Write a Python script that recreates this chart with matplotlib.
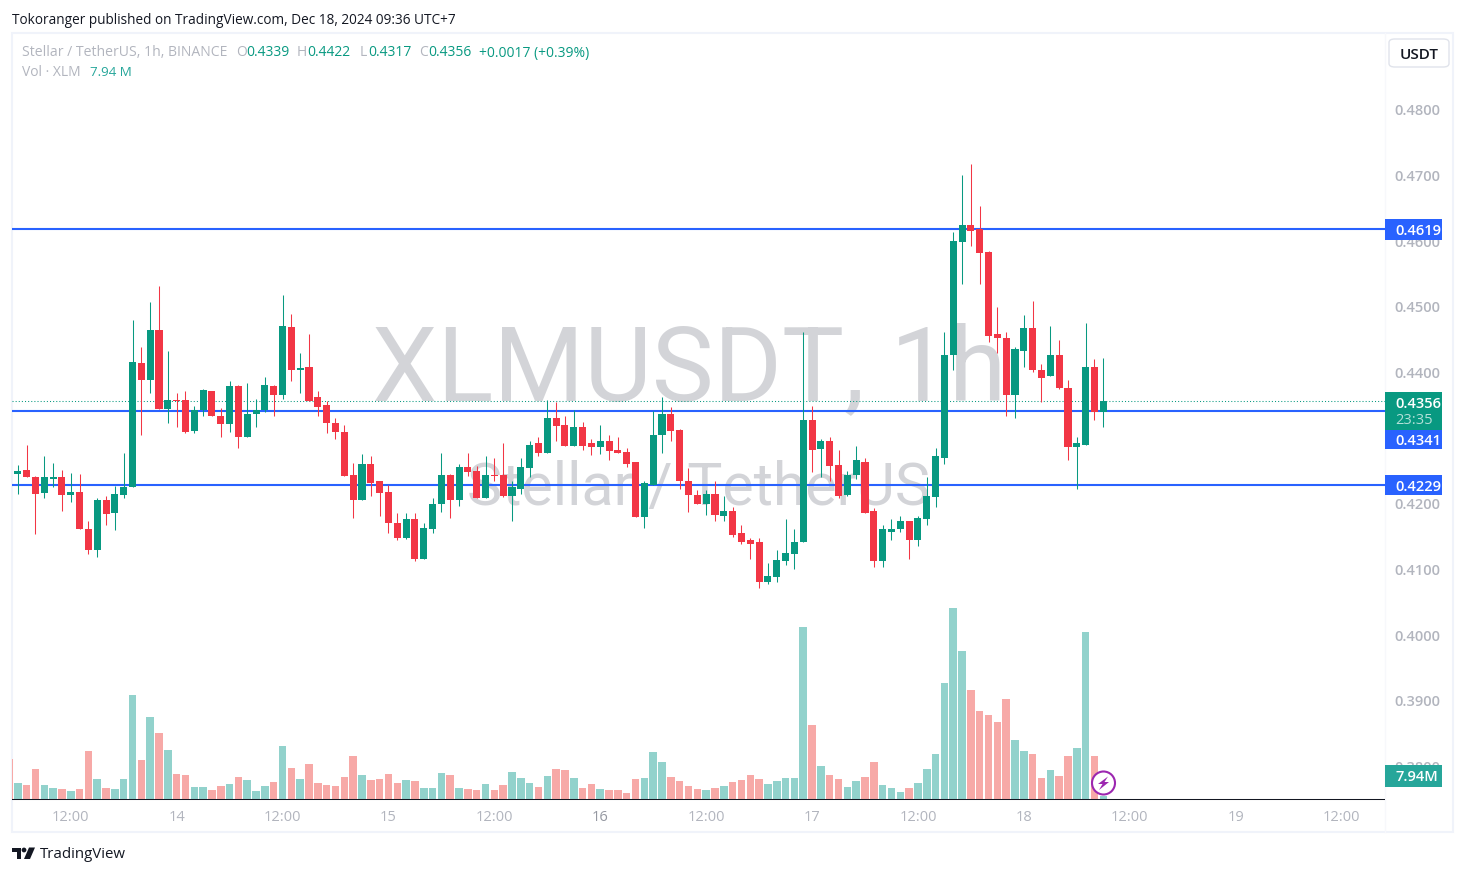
# Recreate the XLMUSDT 1h TradingView chart
import numpy as np
import matplotlib
matplotlib.use("Agg")
import matplotlib.pyplot as plt
from matplotlib.patches import Rectangle, Circle, Polygon, FancyBboxPatch

plt.rcParams['font.family'] = ['Open Sans', 'DejaVu Sans']

# Candles, one per hour, first one is Dec 13 06:00
opens = [
    .4246, .4252, .4241, .4217, .4238, .4241, .4214, .4218, .4162, .4130,
    .4206, .4186, .4214, .4226, .4415, .4389, .4465, .4345, .4358, .4358,
    .4311, .4343, .4371, .4334, .4322, .4380, .4302, .4336, .4343, .4380,
    .4365, .4470, .4403, .4409, .4362, .4351, .4323, .4310, .4244, .4206,
    .4260, .4234, .4218, .4171, .4148, .4176, .4116, .4162, .4199, .4244,
    .4206, .4256, .4250, .4208, .4244, .4244, .4212, .4223, .4255, .4292,
    .4278, .4330, .4320, .4288, .4317, .4292, .4287, .4296, .4282, .4279,
    .4263, .4180, .4229, .4304, .4336, .4313, .4235, .4214, .4199, .4215,
    .4182, .4189, .4156, .4144, .4141, .4081, .4089, .4113, .4124, .4141,
    .4327, .4284, .4295, .4259, .4214, .4244, .4264, .4189, .4112, .4157,
    .4161, .4174, .4145, .4177, .4211, .4270, .4426, .4599, .4625, .4618,
    .4584, .4458, .4453, .4365, .4432, .4468, .4404, .4394, .4426, .4377,
    .4287, .4290, .4409, .4339]
highs = [
    .4259, .4290, .4243, .4273, .4262, .4252, .4247, .4246, .4174, .4208,
    .4212, .4227, .4278, .4480, .4439, .4508, .4531, .4432, .4369, .4371,
    .4349, .4375, .4372, .4346, .4387, .4381, .4384, .4360, .4393, .4381,
    .4518, .4489, .4429, .4459, .4372, .4357, .4331, .4320, .4262, .4276,
    .4272, .4234, .4228, .4186, .4186, .4186, .4171, .4209, .4278, .4246,
    .4260, .4278, .4258, .4273, .4270, .4292, .4235, .4269, .4295, .4301,
    .4358, .4355, .4333, .4343, .4325, .4299, .4320, .4304, .4301, .4285,
    .4263, .4235, .4342, .4362, .4348, .4314, .4255, .4221, .4221, .4235,
    .4212, .4195, .4167, .4148, .4148, .4110, .4130, .4176, .4161, .4461,
    .4349, .4298, .4301, .4282, .4250, .4288, .4269, .4194, .4167, .4177,
    .4182, .4174, .4182, .4240, .4285, .4462, .4614, .4701, .4718, .4654,
    .4585, .4500, .4461, .4439, .4488, .4509, .4413, .4471, .4450, .4389,
    .4301, .4476, .4420, .4422]
lows = [
    .4215, .4240, .4154, .4208, .4226, .4189, .4203, .4162, .4124, .4119,
    .4167, .4160, .4209, .4226, .4305, .4369, .4345, .4323, .4317, .4308,
    .4308, .4333, .4333, .4302, .4310, .4285, .4302, .4317, .4340, .4334,
    .4360, .4387, .4368, .4357, .4333, .4307, .4299, .4243, .4179, .4206,
    .4212, .4182, .4156, .4144, .4147, .4112, .4116, .4156, .4188, .4179,
    .4196, .4243, .4208, .4208, .4235, .4211, .4174, .4215, .4240, .4272,
    .4278, .4295, .4288, .4288, .4282, .4275, .4276, .4266, .4278, .4256,
    .4180, .4163, .4229, .4278, .4295, .4223, .4188, .4199, .4183, .4173,
    .4173, .4150, .4138, .4116, .4071, .4078, .4080, .4106, .4100, .4141,
    .4249, .4240, .4234, .4208, .4212, .4238, .4186, .4103, .4103, .4145,
    .4157, .4116, .4136, .4167, .4195, .4260, .4404, .4535, .4593, .4535,
    .4447, .4430, .4333, .4331, .4409, .4400, .4355, .4394, .4375, .4266,
    .4223, .4290, .4328, .4317]
closes = [
    .4250, .4240, .4215, .4240, .4241, .4214, .4218, .4162, .4130, .4206,
    .4185, .4215, .4226, .4416, .4389, .4464, .4345, .4358, .4357, .4310,
    .4343, .4374, .4333, .4322, .4380, .4302, .4337, .4343, .4381, .4366,
    .4471, .4404, .4407, .4357, .4348, .4323, .4310, .4243, .4206, .4260,
    .4232, .4217, .4170, .4148, .4176, .4116, .4163, .4199, .4244, .4206,
    .4256, .4249, .4208, .4244, .4243, .4212, .4226, .4256, .4290, .4278,
    .4330, .4319, .4288, .4317, .4288, .4287, .4295, .4281, .4278, .4261,
    .4180, .4231, .4305, .4336, .4311, .4234, .4214, .4200, .4215, .4183,
    .4189, .4153, .4141, .4139, .4081, .4090, .4115, .4125, .4142, .4327,
    .4282, .4295, .4258, .4212, .4244, .4266, .4186, .4113, .4161, .4162,
    .4174, .4145, .4179, .4212, .4272, .4427, .4601, .4625, .4616, .4582,
    .4456, .4452, .4365, .4435, .4468, .4403, .4392, .4426, .4377, .4287,
    .4293, .4409, .4339, .4356]

# Volume in millions of XLM, same candles
volumes = [
    48, 42, 90, 42, 33, 30, 24, 30, 144, 60,
    33, 30, 60, 312, 117, 246, 198, 147, 75, 72,
    36, 36, 27, 39, 45, 66, 57, 24, 39, 51,
    159, 93, 60, 105, 48, 42, 39, 66, 129, 72,
    57, 60, 75, 48, 57, 54, 33, 33, 78, 72,
    33, 30, 27, 45, 27, 42, 81, 63, 48, 36,
    69, 90, 87, 63, 33, 45, 30, 27, 27, 18,
    60, 63, 141, 111, 66, 54, 39, 30, 27, 33,
    39, 51, 57, 72, 60, 45, 54, 63, 63, 516,
    222, 99, 72, 60, 36, 54, 66, 111, 42, 33,
    21, 33, 48, 90, 135, 348, 573, 444, 327, 264,
    252, 231, 300, 177, 144, 135, 63, 87, 69, 129,
    153, 501, 129, 7.94]
cut_off_volume = 120  # the bar before the first candle, mostly off the chart

# Levels drawn on the chart
levels = [0.4619, 0.4341, 0.4229]
last_price = 0.4356

# Axis labels (0.43 is fully behind the 0.4341 tag in the original)
price_ticks = [0.48, 0.47, 0.46, 0.45, 0.44, 0.42, 0.41, 0.40, 0.39, 0.38]
time_ticks = [6, 18, 30, 42, 54, 66, 78, 90, 102, 114, 126, 138, 150]
time_labels = ['12:00', '14', '12:00', '15', '12:00', '16', '12:00', '17',
               '12:00', '18', '12:00', '19', '12:00']

GREEN = '#089981'
RED = '#F23645'
BLUE = '#2962FF'
GREY = '#B2B5BE'
DARK = '#131722'
VOL_GREEN = '#92D2CC'
VOL_RED = '#F7A9A7'
W, H = 1465, 874


# Converts picture pixels to figure fractions
def fx(x):
    return x / W


def fy(y):
    return 1 - y / H


def label(x, y, text, **kw):
    kw.setdefault('va', 'center')
    return fig.text(fx(x), fy(y), text, **kw)


fig = plt.figure(figsize=(W / 100, H / 100), dpi=100, facecolor='white')

# Chart area frame and the line left of the price scale
left, right, top, bottom = 12, 1385, 33, 832
fig.add_artist(Rectangle((fx(left), fy(bottom)), fx(1453 - left), (bottom - top) / H,
                         transform=fig.transFigure, fill=False, edgecolor='#F0F3FA', linewidth=1.5, zorder=-3))
fig.add_artist(plt.Line2D([fx(right), fx(right)], [fy(top), fy(bottom)], color='#F7F8FB', linewidth=1, zorder=-3))

# Watermark sits behind everything
label(372, 400, 'XLMUSDT, 1h', fontsize=75, family='Roboto', color='#D3D4D8', va='baseline', zorder=-2)
label(467, 505, 'Stellar / TetherUS', fontsize=42.5, family='Roboto', color='#D3D4D8', va='baseline', zorder=-2)

ax_vol = fig.add_axes([fx(left), fy(bottom), (right - left) / W, (bottom - top) / H])
ax = fig.add_axes([fx(left), fy(bottom), (right - left) / W, (bottom - top) / H])
for a in (ax, ax_vol):
    a.patch.set_visible(False)
    for s in a.spines.values():
        s.set_visible(False)

# Scales: 8.825 px per hour, 6564 px per price unit, 3M volume per px
step = 8.825
x0 = 17.8
xlim = ((left - x0) / step, (right - x0) / step)
ax.set_xlim(xlim)
ax_vol.set_xlim(xlim)
ax.set_ylim(0.4619 - (bottom - 228.7) / 6564, 0.4619 + (228.7 - top) / 6564)
ax_vol.set_ylim(-(bottom - 798.7) * 3, (798.7 - top) * 3)

opens = np.array(opens)
closes = np.array(closes)
highs = np.array(highs)
lows = np.array(lows)
idx = np.arange(len(opens))
up = closes >= opens
colors = [GREEN if u else RED for u in up]

# Volume pane
vol_colors = [VOL_GREEN if u else VOL_RED for u in up]
ax_vol.bar(np.r_[-1, idx], np.r_[cut_off_volume, volumes], width=0.85,
           color=[VOL_RED] + vol_colors, linewidth=0)
ax_vol.axhline(0, color=DARK, linewidth=0.75)

# Levels and last price line
for level in levels:
    ax.axhline(level, color=BLUE, linewidth=1.5, zorder=1)
ax.axhline(last_price, color=GREEN, linewidth=0.75, linestyle=(0, (1, 2)), zorder=1)

# Candles
ax.vlines(idx, lows, highs, colors=colors, linewidth=0.75, zorder=2)
ax.bar(idx, closes - opens, bottom=opens, width=0.8, color=colors, linewidth=0, zorder=3)

# Time axis
ax.set_xticks(time_ticks)
ax.set_xticklabels(time_labels, fontsize=10.5, color=GREY)
ax.get_xticklabels()[5].set_color('#9598A1')
ax.tick_params(axis='x', length=0, pad=-16)
ax.xaxis.set_ticks_position('bottom')

# Price axis
ax.yaxis.tick_right()
ax.set_yticks(price_ticks)
ax.set_yticklabels(['%.4f' % t for t in price_ticks], fontsize=10.5, color=GREY, fontweight='semibold')
ax.tick_params(axis='y', length=0, pad=7)
ax_vol.set_xticks([])
ax_vol.set_yticks([])


# Coloured boxes on the price scale
def price_box(y0, y1, color, zorder=5):
    box = FancyBboxPatch((fx(1385), fy(y1)), 57 / W, (y1 - y0) / H, boxstyle='square,pad=0',
                         transform=fig.transFigure, facecolor=color, edgecolor='none', zorder=zorder)
    fig.add_artist(box)


tag_font = dict(fontsize=10.5, color='white', fontweight='semibold', zorder=6)
price_box(219, 240, BLUE)
label(1395, 231, '0.4619', **tag_font)
price_box(392, 430, GREEN)
label(1395, 404, '0.4356', **tag_font)
label(1395, 420, '23:35', fontsize=10.5, color='#B4E0D8', zorder=6)
price_box(430, 449, BLUE)
label(1395, 441, '0.4341', **tag_font)
price_box(475, 495, BLUE)
label(1395, 487.5, '0.4229', **tag_font)
price_box(765, 787, '#26A69A')
label(1395, 777, '7.94M', **tag_font)

# Unit button
fig.add_artist(FancyBboxPatch((fx(1389), fy(67)), 60 / W, 28 / H, boxstyle='round,pad=0,rounding_size=0.004',
                              transform=fig.transFigure, facecolor='white', edgecolor='#E0E3EB', linewidth=1, zorder=5))
label(1419, 55, 'USDT', fontsize=11, color=DARK, ha='center', fontweight='semibold', zorder=6)

# Publisher line
label(12, 20, 'Tokoranger published on TradingView.com, Dec 18, 2024 09:36 UTC+7', fontsize=9.8, color=DARK)

# Legend rows
label(22, 53, 'Stellar / TetherUS, 1h, BINANCE', fontsize=10.1, color=GREY)
for x, letter, xv, value in [(236, 'O', 246, '0.4339'), (297, 'H', 307, '0.4422'),
                             (360, 'L', 368, '0.4317'), (419, 'C', 428, '0.4356')]:
    label(x, 53, letter, fontsize=10, color=GREY)
    label(xv, 53, value, fontsize=10, color=GREEN)
label(479, 53, '+0.0017 (+0.39%)', fontsize=10, color=GREEN)
label(22, 73, 'Vol · XLM', fontsize=10, color=GREY)
label(90, 73, '7.94 M', fontsize=9.6, color='#26A69A')

# Lightning badge on the last bar
badge = Circle((1103.5, H - 783), 11.5, transform=None, facecolor='white', edgecolor='#9C27B0', linewidth=1.5, zorder=7)
fig.add_artist(badge)
bolt = [(1108, 776.5), (1098, 784), (1102.5, 784), (1099, 790), (1109, 782), (1104.5, 782)]
fig.add_artist(Polygon([(fx(a), fy(b)) for a, b in bolt], transform=fig.transFigure,
                       facecolor='#9C27B0', edgecolor='none', zorder=8))

# TradingView logo and name
fig.add_artist(Polygon([(fx(a), fy(b)) for a, b in [(12, 847.5), (21, 847.5), (21, 859), (16.5, 859), (16.5, 852), (12, 852)]],
                       transform=fig.transFigure, facecolor=DARK, edgecolor='none'))
fig.add_artist(Circle((24, H - 850), 2.4, transform=None, facecolor=DARK, edgecolor='none'))
fig.add_artist(Polygon([(fx(a), fy(b)) for a, b in [(29, 847.5), (35, 847.5), (30, 859), (24, 859)]],
                       transform=fig.transFigure, facecolor=DARK, edgecolor='none'))
label(40, 855, 'TradingView', fontsize=10.8, color=DARK)

plt.savefig('out.png', dpi=100)
